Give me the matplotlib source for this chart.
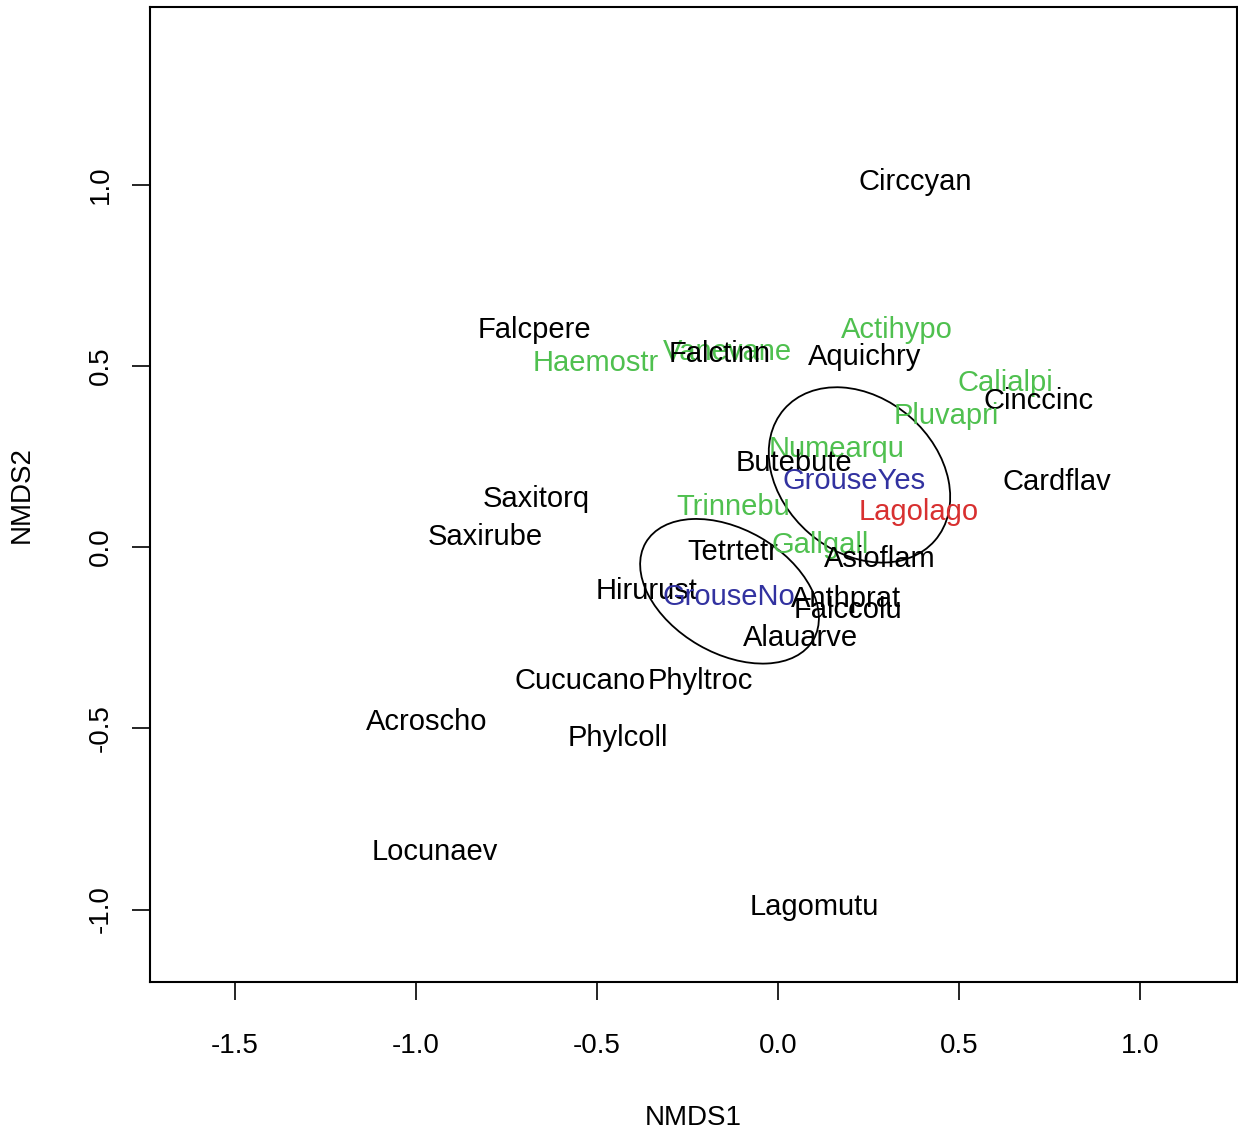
import matplotlib
matplotlib.use("Agg")
import matplotlib.pyplot as plt
from matplotlib.patches import Ellipse

# species scores (label centres)
especies = ["Circcyan", "Falcpere", "Haemostr", "Vanevane", "Falctinn", "Aquichry",
            "Actihypo", "Calialpi", "Cinccinc", "Pluvapri", "Numearqu", "Butebute",
            "Cardflav", "Saxitorq", "Trinnebu", "Lagolago", "Saxirube", "Tetrtetr",
            "Gallgall", "Asioflam", "Hirurust", "Anthprat", "Falccolu", "Alauarve",
            "Cucucano", "Phyltroc", "Acroscho", "Phylcoll", "Locunaev", "Lagomutu"]
nmds1 = [0.379, -0.672, -0.504, -0.139, -0.162, 0.240,
         0.329, 0.628, 0.719, 0.465, 0.161, 0.045,
         0.771, -0.667, -0.123, 0.388, -0.810, -0.126,
         0.117, 0.282, -0.363, 0.189, 0.194, 0.061,
         -0.548, -0.214, -0.970, -0.443, -0.949, 0.100]
nmds2 = [1.006, 0.600, 0.509, 0.539, 0.534, 0.523,
         0.600, 0.454, 0.404, 0.362, 0.271, 0.233,
         0.180, 0.133, 0.111, 0.097, 0.028, -0.013,
         0.006, -0.033, -0.121, -0.143, -0.174, -0.251,
         -0.370, -0.370, -0.483, -0.527, -0.842, -0.994]
grupo = ["n", "n", "v", "v", "n", "n",
         "v", "v", "n", "v", "v", "n",
         "n", "n", "v", "r", "n", "n",
         "v", "n", "n", "n", "n", "n",
         "n", "n", "n", "n", "n", "n"]

# group centroids and ellipses
grupos = ["GrouseYes", "GrouseNo"]
cent_x = [0.210, -0.137]
cent_y = [0.183, -0.138]
elip_x = [0.225, -0.134]
elip_y = [0.199, -0.122]
elip_larg = [0.552, 0.535]
elip_alt = [0.425, 0.342]
elip_ang = [-41, -30]

cores = {"n": "black", "v": "#4fc04f", "r": "#d83030"}
azul = "#3232a0"

plt.rcParams['font.family'] = ['Liberation Sans', 'DejaVu Sans']

fig = plt.figure(figsize=(12.38, 11.40), dpi=100)
ax = fig.add_axes([150 / 1238, 158 / 1140, 1087 / 1238, 975 / 1140])

for nome, x, y, g in zip(especies, nmds1, nmds2, grupo):
    ax.text(x, y, nome, ha="center", va="center", fontsize=21, color=cores[g])

for nome, x, y in zip(grupos, cent_x, cent_y):
    ax.text(x, y, nome, ha="center", va="center", fontsize=21, color=azul)

for x, y, w, h, a in zip(elip_x, elip_y, elip_larg, elip_alt, elip_ang):
    ax.add_patch(Ellipse((x, y), w, h, angle=a, fill=False, color="black", lw=1.3))

ax.set_xlim(-1.735, 1.268)
ax.set_ylim(-1.20, 1.49)
ax.set_xticks([-1.5, -1.0, -0.5, 0.0, 0.5, 1.0])
ax.set_yticks([-1.0, -0.5, 0.0, 0.5, 1.0])
ax.set_xticklabels(["-1.5", "-1.0", "-0.5", "0.0", "0.5", "1.0"])
ax.set_yticklabels(["-1.0", "-0.5", "0.0", "0.5", "1.0"], rotation=90, va="center")
ax.tick_params(length=13, width=1.2, labelsize=20)
ax.tick_params(axis="x", pad=24)
ax.tick_params(axis="y", pad=13)
for s in ax.spines.values():
    s.set_linewidth(1.5)

ax.set_xlabel("NMDS1", fontsize=20, labelpad=33)
ax.set_ylabel("NMDS2", fontsize=20, labelpad=38)

plt.savefig("out.png", dpi=100)
